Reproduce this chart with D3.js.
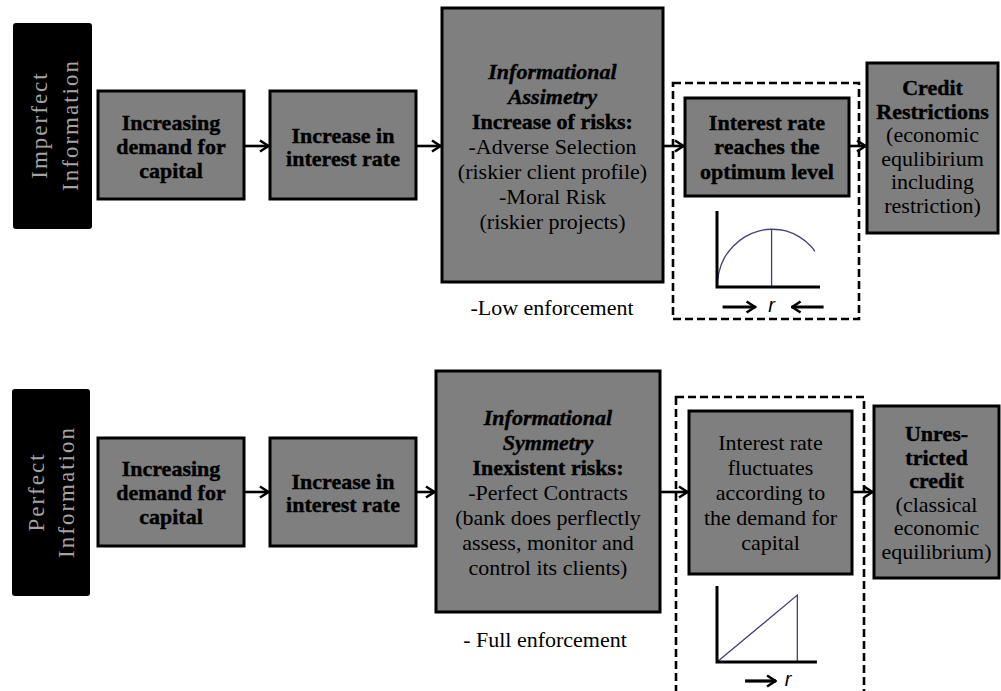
<!DOCTYPE html>
<html>
<head>
<meta charset="utf-8">
<script src="https://cdn.jsdelivr.net/npm/d3@7"></script>
<style>
  body { margin: 0; background: #fff; }
  svg { display: block; }
</style>
</head>
<body>
<script>
// row headers
var rowTitles = [["Imperfect", "Information"], ["Perfect", "Information"]];

// box texts, left to right
var topSteps = [
  ["Increasing", "demand for", "capital"],
  ["Increase in", "interest rate"],
  ["Informational", "Assimetry", "Increase of risks:", "-Adverse Selection",
   "(riskier client profile)", "-Moral Risk", "(riskier projects)"],
  ["Interest rate", "reaches the", "optimum level"],
  ["Credit", "Restrictions", "(economic", "equlibirium", "including", "restriction)"]
];
var bottomSteps = [
  ["Increasing", "demand for", "capital"],
  ["Increase in", "interest rate"],
  ["Informational", "Symmetry", "Inexistent risks:", "-Perfect Contracts",
   "(bank does perflectly", "assess, monitor and", "control its clients)"],
  ["Interest rate", "fluctuates", "according to", "the demand for", "capital"],
  ["Unres-", "tricted", "credit", "(classical", "economic", "equilibrium)"]
];
var notes = ["-Low enforcement", "- Full enforcement"];
var rLabel = "r";

// small r graphs (r and y on a 0..10 scale)
var humpR = [0, 0.2, 0.7, 1.6, 2.7, 4.1, 5.3, 6.7, 8.0, 9.1, 9.5];
var humpY = [0, 2.0, 3.8, 5.4, 6.6, 7.4, 7.6, 7.4, 6.6, 5.4, 4.7];
var optimumR = [5.3, 5.3];
var optimumY = [0, 7.6];
var riseR = [0, 7.8, 7.8];
var riseY = [0, 8.8, 0];

// ---- layout ----
var width = 1001, height = 691;

// b = bold, bi = bold italic, n = normal
var rows = [
  {
    steps: topSteps, note: notes[0], title: rowTitles[0],
    label: [13, 23, 79, 206], labelX: [47, 78], labelCy: 125,
    arrowY: 146, textCy: 147,
    boxes: [[98, 91, 146, 108, 24], [270, 91, 146, 108, 23], [442, 8, 221, 274, 25],
            [685, 98, 164, 98, 24.5], [867, 63, 131, 170, 23.6]],
    styles: [["b","b","b"], ["b","b"], ["bi","bi","b","n","n","n","n"],
             ["b","b","b"], ["b","b","n","n","n","n"]],
    dashed: [673, 83, 186, 236],
    notePos: [552, 315],
    graph: [717, 287], hump: true, rY: 20
  },
  {
    steps: bottomSteps, note: notes[1], title: rowTitles[1],
    label: [12, 389, 78, 207], labelX: [44, 74], labelCy: 492,
    arrowY: 492, textCy: 493,
    boxes: [[98, 438, 146, 108, 24], [270, 438, 146, 108, 23], [436, 371, 224, 241, 25],
            [689, 411, 163, 163, 25], [874, 406, 125, 172, 23.6]],
    styles: [["b","b","b"], ["b","b"], ["bi","bi","b","n","n","n","n"],
             ["n","n","n","n","n"], ["b","b","b","n","n","n"]],
    dashed: [676, 397, 188, 320],
    notePos: [545, 647],
    graph: [717, 662], hump: false, rY: 19
  }
];

var svg = d3.select("body").append("svg")
  .attr("width", width)
  .attr("height", height);

var defs = svg.append("defs");
defs.append("marker")
  .attr("id", "head")
  .attr("markerUnits", "userSpaceOnUse")
  .attr("viewBox", "0 0 12 14")
  .attr("refX", 11).attr("refY", 7)
  .attr("markerWidth", 12).attr("markerHeight", 14)
  .attr("orient", "auto")
  .append("path")
  .attr("d", "M2,1.5 L10.5,7 L2,12.5")
  .attr("fill", "none")
  .attr("stroke", "#000")
  .attr("stroke-width", 2.6);

// scales for the small graphs
var gx = d3.scaleLinear().domain([0, 10]).range([0, 103]);
var gy = d3.scaleLinear().domain([0, 10]).range([0, -76]);
var lineGen = d3.line().x(d => gx(d[0])).y(d => gy(d[1]));

var serif = "'Liberation Serif', 'Times New Roman', serif";

rows.forEach(function(row) {
  var g = svg.append("g");

  // black header
  g.append("rect")
    .attr("x", row.label[0]).attr("y", row.label[1])
    .attr("width", row.label[2]).attr("height", row.label[3])
    .attr("rx", 3)
    .attr("fill", "#000");
  row.title.forEach(function(t, i) {
    g.append("text")
      .attr("transform", `translate(${row.labelX[i]},${row.labelCy}) rotate(-90)`)
      .attr("text-anchor", "middle")
      .style("font-family", serif)
      .style("font-size", "23px")
      .style("letter-spacing", "2px")
      .attr("fill", "#a3a3a3")
      .text(t);
  });

  // dashed frame
  g.append("rect")
    .attr("x", row.dashed[0]).attr("y", row.dashed[1])
    .attr("width", row.dashed[2]).attr("height", row.dashed[3])
    .attr("fill", "none")
    .attr("stroke", "#000")
    .attr("stroke-width", 2.6)
    .attr("stroke-dasharray", "8,4");

  // connectors
  for (var i = 0; i < row.boxes.length - 1; i++) {
    var a = row.boxes[i], b = row.boxes[i + 1];
    g.append("line")
      .attr("x1", a[0] + a[2]).attr("y1", row.arrowY)
      .attr("x2", b[0] - 1).attr("y2", row.arrowY)
      .attr("stroke", "#000")
      .attr("stroke-width", 2.6)
      .attr("marker-end", "url(#head)");
  }

  // boxes
  row.boxes.forEach(function(bx, i) {
    g.append("rect")
      .attr("x", bx[0]).attr("y", bx[1])
      .attr("width", bx[2]).attr("height", bx[3])
      .attr("fill", "#7f7f7f")
      .attr("stroke", "#000")
      .attr("stroke-width", 3);

    var lines = row.steps[i];
    var lh = bx[4];
    var cx = bx[0] + bx[2] / 2;
    var txt = g.append("text")
      .attr("text-anchor", "middle")
      .style("font-family", serif)
      .style("font-size", "22px")
      .attr("fill", "#000");
    lines.forEach(function(s, j) {
      var st = row.styles[i][j];
      txt.append("tspan")
        .attr("x", cx)
        .attr("y", row.textCy + (j - (lines.length - 1) / 2) * lh + 7)
        .style("font-weight", st === "n" ? "normal" : "bold")
        .style("font-style", st === "bi" ? "italic" : "normal")
        .attr("stroke", st === "n" ? "none" : "#000")
        .attr("stroke-width", 0.4)
        .text(s);
    });
  });

  // enforcement note
  g.append("text")
    .attr("x", row.notePos[0]).attr("y", row.notePos[1])
    .attr("text-anchor", "middle")
    .style("font-family", serif)
    .style("font-size", "22px")
    .text(row.note);

  // small graph
  var gg = g.append("g").attr("transform", `translate(${row.graph[0]},${row.graph[1]})`);
  var curveCol = "#40407f";
  if (row.hump) {
    gg.append("path")
      .datum(d3.zip(humpR, humpY))
      .attr("d", lineGen.curve(d3.curveCatmullRom))
      .attr("fill", "none").attr("stroke", curveCol).attr("stroke-width", 1.3);
    gg.append("path")
      .datum(d3.zip(optimumR, optimumY))
      .attr("d", lineGen.curve(d3.curveLinear))
      .attr("fill", "none").attr("stroke", curveCol).attr("stroke-width", 1.3);
  } else {
    gg.append("path")
      .datum(d3.zip(riseR, riseY))
      .attr("d", lineGen.curve(d3.curveLinear))
      .attr("fill", "none").attr("stroke", curveCol).attr("stroke-width", 1.3);
  }
  // axes
  gg.append("path")
    .attr("d", `M${gx(0)},${gy(10)} V${gy(0)} H${gx(row.hump ? 10 : 9.7)}`)
    .attr("fill", "none")
    .attr("stroke", "#000")
    .attr("stroke-width", 3);

  // r with arrows
  var ry = row.rY;
  var rx = row.hump ? gx(5.3) : gx(6.9);
  gg.append("text")
    .attr("x", rx).attr("y", ry + 5)
    .attr("text-anchor", "middle")
    .style("font-family", "'Liberation Sans', Arial, sans-serif")
    .style("font-style", "italic")
    .style("font-size", "20px")
    .text(rLabel);
  gg.append("line")
    .attr("x1", rx - (row.hump ? 49 : 43)).attr("y1", ry)
    .attr("x2", rx - (row.hump ? 16 : 12)).attr("y2", ry)
    .attr("stroke", "#000").attr("stroke-width", 3.2)
    .attr("marker-end", "url(#head)");
  if (row.hump) {
    gg.append("line")
      .attr("x1", rx + 52).attr("y1", ry)
      .attr("x2", rx + 20).attr("y2", ry)
      .attr("stroke", "#000").attr("stroke-width", 3.2)
      .attr("marker-end", "url(#head)");
  }
});
</script>
</body>
</html>
